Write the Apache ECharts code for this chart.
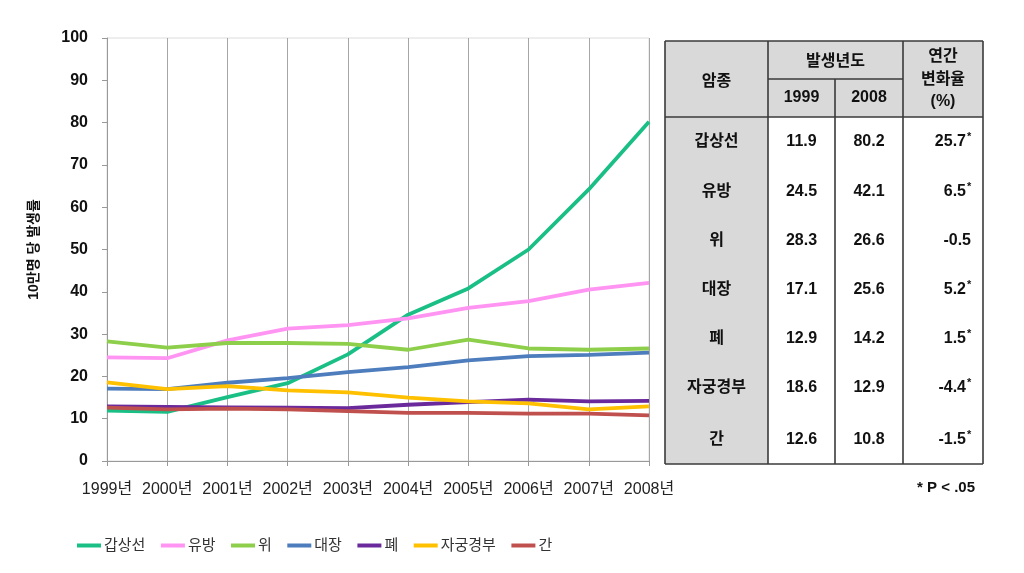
<!DOCTYPE html>
<html>
<head>
<meta charset="utf-8">
<script src="https://cdn.jsdelivr.net/npm/echarts@6/dist/echarts.min.js"></script>
<style>
html,body{margin:0;padding:0;background:#fff;}
#chart{width:1024px;height:573px;}
</style>
</head>
<body>
<div id="chart"></div>
<script>
// ---- data ----
var years = ['1999년','2000년','2001년','2002년','2003년','2004년','2005년','2006년','2007년','2008년'];
var seriesNames = ['갑상선','유방','위','대장','폐','자궁경부','간'];
var thyroid  = [11.9, 11.6, 15.1, 18.4, 25.2, 34.6, 40.8, 50.0, 64.2, 80.2];
var breast   = [24.5, 24.3, 28.5, 31.3, 32.1, 33.7, 36.2, 37.8, 40.5, 42.1];
var stomach  = [28.3, 26.8, 27.9, 27.9, 27.7, 26.3, 28.7, 26.6, 26.3, 26.6];
var colon    = [17.1, 17.0, 18.5, 19.6, 21.0, 22.2, 23.8, 24.8, 25.1, 25.6];
var lung     = [12.9, 12.8, 12.7, 12.6, 12.5, 13.3, 13.9, 14.5, 14.1, 14.2];
var cervix   = [18.6, 17.0, 17.7, 16.7, 16.2, 15.0, 14.1, 13.6, 12.2, 12.9];
var liver    = [12.6, 12.2, 12.4, 12.2, 11.8, 11.4, 11.4, 11.2, 11.2, 10.8];
var colors = ['#1ABF86','#FF94F2','#8DCF4A','#4D7DBD','#6A2A9C','#FFC000','#C0504D'];

// table
var tableHeaderCancer = '암종';
var tableHeaderYear = '발생년도';
var tableYears = ['1999','2008'];
var tableHeaderRate = ['연간','변화율','(%)'];
var tableCancers = ['갑상선','유방','위','대장','폐','자궁경부','간'];
var table1999 = ['11.9','24.5','28.3','17.1','12.9','18.6','12.6'];
var table2008 = ['80.2','42.1','26.6','25.6','14.2','12.9','10.8'];
var tableRate = ['25.7','6.5','-0.5','5.2','1.5','-4.4','-1.5'];
var tableSig  = [true, true, false, true, true, true, true];
var footnote = '* P < .05';

var allData = [thyroid, breast, stomach, colon, lung, cervix, liver];

var chart = echarts.init(document.getElementById('chart'));

var FONT = '"Liberation Sans", Arial, "Noto Sans CJK KR", sans-serif';

// ---- table graphics ----
var tx = [665, 768, 835, 903, 983];
var tyTop = 41, tyMid = 79, tyHead = 117, tyBot = 464;
var rowY = [142, 192, 241, 290, 339, 388, 440];
var lineColor = '#3a3a3a';
var gray = '#D9D9D9';
var g = [];
g.push({type:'rect', shape:{x:tx[0], y:tyTop, width:tx[4]-tx[0], height:tyHead-tyTop}, style:{fill:gray}, z:1});
g.push({type:'rect', shape:{x:tx[0], y:tyHead, width:tx[1]-tx[0], height:tyBot-tyHead}, style:{fill:gray}, z:1});
function ln(x1,y1,x2,y2){ g.push({type:'line', shape:{x1:x1,y1:y1,x2:x2,y2:y2}, style:{stroke:lineColor, lineWidth:1.6}, z:2}); }
ln(tx[0],tyTop,tx[4],tyTop);
ln(tx[0],tyBot,tx[4],tyBot);
ln(tx[0],tyHead,tx[4],tyHead);
ln(tx[1],tyMid,tx[3],tyMid);
ln(tx[0],tyTop,tx[0],tyBot);
ln(tx[4],tyTop,tx[4],tyBot);
ln(tx[1],tyTop,tx[1],tyBot);
ln(tx[3],tyTop,tx[3],tyBot);
ln(tx[2],tyMid,tx[2],tyBot);
function txt(s,x,y,align,size,weight){
  g.push({type:'text', x:x, y:y, z:3, style:{text:s, align:align||'center', verticalAlign:'middle', font:(weight||'bold')+' '+(size||16)+'px '+FONT, fill:'#111'}});
}
txt(tableHeaderCancer, (tx[0]+tx[1])/2, 82);
txt(tableHeaderYear, (tx[1]+tx[3])/2, 62);
txt(tableYears[0], (tx[1]+tx[2])/2, 98);
txt(tableYears[1], (tx[2]+tx[3])/2, 98);
txt(tableHeaderRate[0], (tx[3]+tx[4])/2, 57);
txt(tableHeaderRate[1], (tx[3]+tx[4])/2, 80);
txt(tableHeaderRate[2], (tx[3]+tx[4])/2, 102);
for (var i=0;i<tableCancers.length;i++){
  txt(tableCancers[i], (tx[0]+tx[1])/2, rowY[i]);
  txt(table1999[i], (tx[1]+tx[2])/2, rowY[i]);
  txt(table2008[i], (tx[2]+tx[3])/2, rowY[i]);
  if (tableSig[i]) {
    txt(tableRate[i], 966, rowY[i], 'right');
    txt('*', 967, rowY[i]-5, 'left', 11);
  } else {
    txt(tableRate[i], 971, rowY[i], 'right');
  }
}
txt(footnote, 975, 488, 'right', 15);

var series = seriesNames.map(function(n, i){
  return {
    name: n, type: 'line', data: allData[i], symbol: 'none',
    lineStyle: {color: colors[i], width: 3.8}, itemStyle: {color: colors[i]},
    z: 3 + i
  };
});

chart.setOption({
  animation: false,
  backgroundColor: '#fff',
  grid: {left: 107, right: 375, top: 38, bottom: 112, show: true, borderColor: '#dcdcdc', borderWidth: 1},
  legend: {
    left: 72, top: 533, itemWidth: 24, itemHeight: 4, itemGap: 15.5, icon: 'rect',
    data: seriesNames,
    textStyle: {fontSize: 15, color: '#333', fontFamily: FONT, padding: [0,0,0,-2]}
  },
  xAxis: {
    type: 'category', data: years, boundaryGap: false,
    axisLine: {lineStyle: {color: '#999', width: 1}},
    axisTick: {show: true, alignWithLabel: true, length: 5, lineStyle: {color: '#999'}},
    axisLabel: {fontSize: 16, color: '#222', fontFamily: FONT, margin: 21, interval: 0},
    splitLine: {show: true, lineStyle: {color: '#a6a6a6', width: 1}}
  },
  yAxis: {
    type: 'value', min: 0, max: 100, interval: 10,
    name: '10만명 당 발생률', nameLocation: 'middle', nameGap: 66, nameRotate: 90,
    nameTextStyle: {fontSize: 14, fontWeight: 'bold', color: '#111', fontFamily: FONT},
    axisLine: {show: true, lineStyle: {color: '#999', width: 1}},
    axisTick: {show: true, length: 5, lineStyle: {color: '#999'}},
    axisLabel: {fontSize: 16, fontWeight: 'bold', color: '#111', fontFamily: FONT, margin: 19},
    splitLine: {show: false}
  },
  series: series,
  graphic: g
});
</script>
</body>
</html>
